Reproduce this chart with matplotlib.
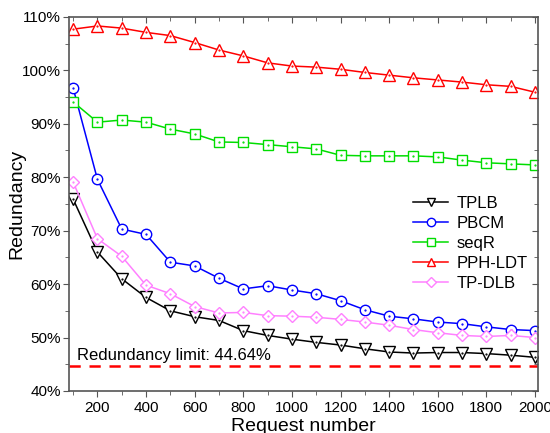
import matplotlib
matplotlib.use("Agg")
import matplotlib.pyplot as plt
from matplotlib.ticker import MultipleLocator, FuncFormatter

plt.rcParams['font.family'] = ['Liberation Sans', 'DejaVu Sans']

requests = list(range(100, 2001, 100))

tplb = [75.9, 66.0, 61.0, 57.5, 55.0, 53.9, 53.2, 51.3, 50.4, 49.7,
        49.1, 48.6, 47.9, 47.3, 47.1, 47.2, 47.2, 47.0, 46.7, 46.3]
pbcm = [96.7, 79.6, 70.3, 69.3, 64.1, 63.4, 61.1, 59.1, 59.7, 58.9,
        58.2, 56.9, 55.2, 54.0, 53.5, 52.9, 52.6, 52.0, 51.5, 51.3]
seqr = [94.1, 90.3, 90.7, 90.3, 89.0, 88.1, 86.6, 86.5, 86.1, 85.7,
        85.3, 84.1, 84.0, 84.0, 84.0, 83.8, 83.2, 82.7, 82.5, 82.3]
pph_ldt = [107.7, 108.3, 107.9, 107.1, 106.5, 105.2, 103.8, 102.7, 101.4, 100.8,
           100.6, 100.2, 99.6, 99.1, 98.6, 98.2, 97.8, 97.3, 97.0, 95.9]
tp_dlb = [79.1, 68.5, 65.2, 59.8, 58.2, 55.8, 54.6, 54.7, 54.1, 54.0,
          53.8, 53.4, 52.9, 52.3, 51.5, 50.9, 50.4, 50.2, 50.4, 50.0]

limit = 44.64

series = [
    ("TPLB", tplb, "#000000", "v", 8),
    ("PBCM", pbcm, "#0000ff", "o", 7.5),
    ("seqR", seqr, "#00dd00", "s", 7),
    ("PPH-LDT", pph_ldt, "#ff0000", "^", 8),
    ("TP-DLB", tp_dlb, "#ff80ff", "D", 6.5),
]

fig = plt.figure(figsize=(5.5, 4.33), dpi=100)
ax = fig.add_axes([0.125, 0.097, 0.853, 0.864])

for name, vals, col, mk, ms in series:
    ax.plot(requests, vals, color=col, lw=1.1, marker=mk, ms=ms,
            mfc="white", mec=col, mew=1.0, label=name)
    # small dot in the middle of each hollow marker
    ax.plot(requests, vals, ls="none", marker=".", ms=1.2, color=col)

ax.axhline(limit, color="#ff0000", lw=1.8, ls=(0, (4.5, 3.5)))
ax.text(117, limit + 2.0, f"Redundancy limit: {limit}%", fontsize=12,
        ha="left", va="center")

ax.set_xlim(82, 2012)
ax.set_ylim(40, 110)
ax.xaxis.set_major_locator(MultipleLocator(200))
ax.xaxis.set_minor_locator(MultipleLocator(100))
ax.yaxis.set_major_locator(MultipleLocator(10))
ax.yaxis.set_minor_locator(MultipleLocator(5))
ax.yaxis.set_major_formatter(FuncFormatter(lambda v, p: f"{v:.0f}%"))

ax.tick_params(which="both", direction="out", labelsize=11, color="#555555",
               top=True, right=True)
ax.tick_params(which="major", length=4.5)
ax.tick_params(which="minor", length=3)
ax.tick_params(axis="y", which="major", pad=1)
ax.tick_params(axis="x", which="major", pad=3)
for sp in ax.spines.values():
    sp.set_color("#555555")
    sp.set_linewidth(1.2)

# top and right ticks point inwards, bottom and left outwards
for t in ax.xaxis.get_major_ticks() + ax.xaxis.get_minor_ticks():
    t.tick2line.set_marker(3)
for t in ax.yaxis.get_major_ticks() + ax.yaxis.get_minor_ticks():
    t.tick2line.set_marker(0)

ax.set_xlabel("Request number", fontsize=14, labelpad=2)
ax.set_ylabel("Redundancy", fontsize=14)
ax.yaxis.set_label_coords(-0.092, 0.5)

ax.legend(loc="center right", bbox_to_anchor=(1.0, 0.395),
          frameon=False, fontsize=12, handlelength=2.1, handletextpad=0.5,
          labelspacing=0.3, borderaxespad=0.2, markerscale=0.8)

fig.savefig("out.png", dpi=100)
